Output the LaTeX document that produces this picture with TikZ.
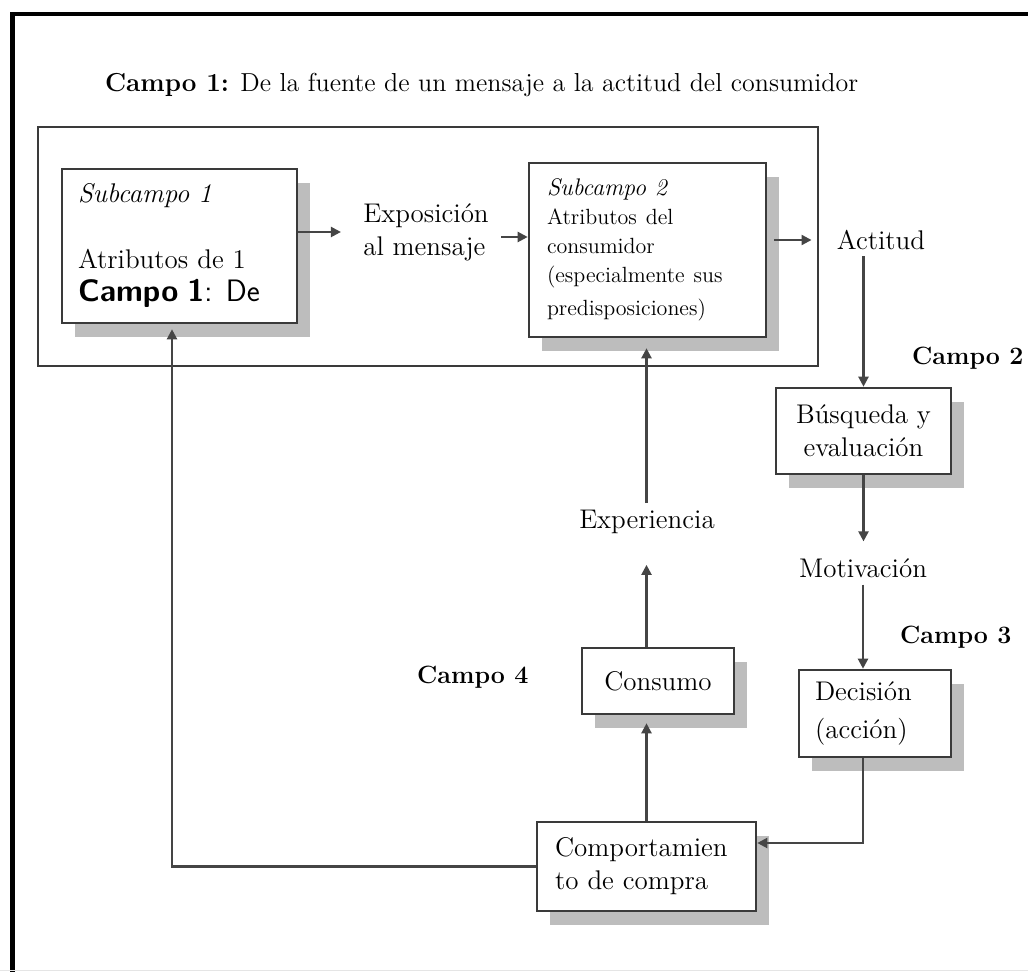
\documentclass[tikz,border=0pt]{standalone}
\usetikzlibrary{arrows.meta,shadows,calc}
\definecolor{boxline}{HTML}{3A3A3A}
\definecolor{linegray}{HTML}{454545}
\definecolor{shadowgray}{HTML}{BDBDBD}
\begin{document}
\begin{tikzpicture}[x=0.5pt,y=-0.5pt,
  every node/.style={font=\fontsize{13.5}{16.5}\selectfont},
  frame/.style={line width=2.4pt,black},
  field/.style={draw=boxline,line width=1.1pt},
  card/.style={draw=boxline,line width=1.3pt,fill=white,
    drop shadow={shadow xshift=6.5pt,shadow yshift=-7pt,fill=shadowgray,opacity=1}},
  conn/.style={draw=linegray,line width=1.1pt,-{Triangle[length=5pt,width=5pt]}},
  tag/.style={font=\fontsize{12.5}{15}\selectfont\bfseries,anchor=west}
]
\useasboundingbox (0,0) rectangle (1028,972);

% page frame
\draw[frame] (12.5,972) -- (12.5,14) -- (1028,14);
\draw[black!10,line width=0.5pt] (0,970.5) -- (1028,970.5);

% heading of the first field
\node[anchor=west,font=\fontsize{13}{16}\selectfont] (title) at (98,85)
  {\textbf{Campo 1:} De la fuente de un mensaje a la actitud del consumidor};

% field 1 frame
\node[field,minimum width=390pt,minimum height=119.5pt] (campo1) at (428,246.5) {};

% subfields
\node[card,minimum width=117.5pt,minimum height=77pt,text width=101.5pt,
      inner xsep=8pt,align=left] (s1) at (179.5,246)
  {\textit{Subcampo 1}\\[16.5pt]
   Atributos de 1\\
   {\sffamily\fontsize{15.5}{17.5}\selectfont\textbf{Campo 1}: De}};

\node[card,minimum width=118.5pt,minimum height=87pt,text width=100.5pt,
      inner xsep=9pt,align=left] (s2) at (647.5,250)
  {\fontsize{12}{14}\selectfont\textit{Subcampo 2}\\
   \fontsize{11}{14.5}\selectfont Atributos del\\
   consumidor\\
   (especialmente sus\\
   predisposiciones)};

\node[align=left,inner xsep=11pt] (expo) at (426,232) {Exposición\\al mensaje};
\node[inner xsep=12.5pt,inner ysep=3pt] (act) at (881,240) {Actitud};

% fields 2 and 3
\node[card,minimum width=87.5pt,minimum height=43pt,align=center] (busq)
  at (863.5,431) {Búsqueda y\\evaluación};
\node (motiv) at (863,568) {Motivación};
\node[card,minimum width=76pt,minimum height=43.5pt,text width=60pt,
      inner xsep=8pt,align=left] (dec) at (875,713.5) {Decisión\\[2.5pt](acción)};

% field 4
\node[card,minimum width=76pt,minimum height=33pt] (cons) at (658,681) {Consumo};
\node (exper) at (647,522) {Experiencia};
\node[card,minimum width=109.5pt,minimum height=44.5pt,text width=91.5pt,
      inner xsep=9pt,align=left] (comp) at (646.5,866.5) {Comportamien\\to de compra};

% field labels
\node[tag] (c2) at (905,358) {Campo 2};
\node[tag] (c3) at (893,637) {Campo 3};
\node[tag] (c4) at (410,677) {Campo 4};

% connectors
\draw[conn] (s1.east |- expo.west) -- (expo.west);
\draw[conn,shorten <=-5pt] ([yshift=-2.5pt]expo.east) -- ([yshift=-2.5pt]expo.east -| s2.west);
\draw[conn] ([xshift=3.5pt]s2.east |- act.west) -- (act.west);
\draw[conn] (act.south -| busq.north) -- (busq.north);
\draw[conn,shorten >=5pt] (busq.south) -- (busq.south |- motiv.north);
\draw[conn] (motiv.south) -- (motiv.south |- dec.north);
\draw[conn] (motiv.south |- dec.south) |- ([yshift=11.75pt]comp.east);
\draw[conn,shorten >=4pt] (comp.north) -- (comp.north |- cons.south);
\draw[conn,shorten >=12pt] (comp.north |- cons.north) -- (comp.north |- exper.south);
\draw[conn,shorten >=5pt] (comp.north |- exper.north) -- (comp.north |- s2.south);
\draw[conn,shorten >=2.5pt] (comp.west) -| ([xshift=-3.75pt]s1.south);
\end{tikzpicture}
\end{document}
